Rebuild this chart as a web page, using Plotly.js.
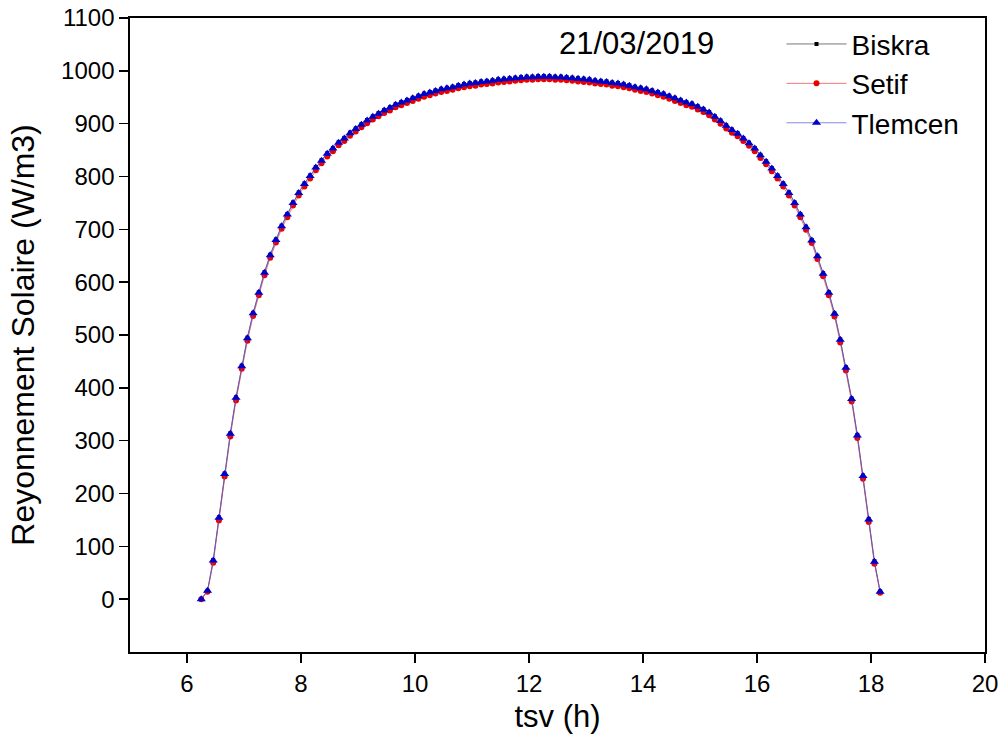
<!DOCTYPE html>
<html>
<head>
<meta charset="utf-8">
<script src="https://cdn.plot.ly/plotly-3.0.1.min.js"></script>
<style>html,body{margin:0;padding:0;background:#fff;}#chart{width:1001px;height:742px;}</style>
</head>
<body>
<div id="chart"></div>
<script>
// tsv (h): sunrise point then 0.1 h steps
var tsv = [6.25,
  6.36,6.46,6.56,6.66,6.76,6.86,6.96,7.06,7.16,7.26,
  7.36,7.46,7.56,7.66,7.76,7.86,7.96,8.06,8.16,8.26,
  8.36,8.46,8.56,8.66,8.76,8.86,8.96,9.06,9.16,9.26,
  9.36,9.46,9.56,9.66,9.76,9.86,9.96,10.06,10.16,10.26,
  10.36,10.46,10.56,10.66,10.76,10.86,10.96,11.06,11.16,11.26,
  11.36,11.46,11.56,11.66,11.76,11.86,11.96,12.06,12.16,12.26,
  12.36,12.46,12.56,12.66,12.76,12.86,12.96,13.06,13.16,13.26,
  13.36,13.46,13.56,13.66,13.76,13.86,13.96,14.06,14.16,14.26,
  14.36,14.46,14.56,14.66,14.76,14.86,14.96,15.06,15.16,15.26,
  15.36,15.46,15.56,15.66,15.76,15.86,15.96,16.06,16.16,16.26,
  16.36,16.46,16.56,16.66,16.76,16.86,16.96,17.06,17.16,17.26,
  17.36,17.46,17.56,17.66,17.76,17.86,17.96,18.06,18.16];

var biskra = [0,
  16,74,155,238,314,382,442,495,542,581,619,652,681,707,729,751,770,787,802,818,831,844,854,865,873,883,891,899,907,
  914,920,926,931,937,941,945,949,953,957,960,963,966,968,970,973,975,977,978,980,981,982,984,985,986,987,988,989,989,990,
  990,
  990,989,989,988,987,986,985,984,982,981,980,978,977,975,973,970,968,966,963,960,957,953,949,945,941,938,933,928,922,914,
  906,897,889,882,873,864,854,841,829,816,802,787,770,751,729,705,680,650,617,581,541,492,439,380,311,234,152,72,15];

var setif = [0,
  14,69,149,232,308,376,436,489,536,575,613,646,675,701,723,745,764,781,796,812,825,838,848,859,867,877,885,893,901,
  908,914,920,925,931,935,939,943,947,951,954,957,960,962,964,967,969,971,972,974,975,976,978,979,980,981,982,983,983,984,
  984,
  984,983,983,982,981,980,979,978,976,975,974,972,971,969,967,964,962,960,957,954,951,947,943,939,935,932,927,922,916,908,
  900,891,883,876,867,858,848,835,823,810,796,781,764,745,723,699,674,644,611,575,535,486,433,374,305,228,146,67,12];

var tlemcen = [0,
  16,73,154,237,313,381,441,494,541,580,618,651,680,706,728,750,769,786,801,817,830,843,853,864,872,882,890,898,906,
  913,919,925,930,936,940,944,948,952,956,959,962,965,967,969,972,974,976,977,979,980,981,983,984,985,986,987,988,988,989,
  989,
  989,988,988,987,986,985,984,983,981,980,979,977,976,974,972,969,967,965,962,959,956,952,948,944,940,937,932,927,921,913,
  905,896,888,881,872,863,853,840,828,815,801,786,769,750,728,704,679,649,616,580,540,491,438,379,310,233,151,71,14];

var xTicks = [6,8,10,12,14,16,18,20];
var yTicks = [0,100,200,300,400,500,600,700,800,900,1000,1100];
var seriesNames = ['Biskra','Setif','Tlemcen'];
var dateLabel = '21/03/2019';

var FONT = 'Arial, "Liberation Sans", sans-serif';

var traces = [
  {x: tsv, y: biskra, name: seriesNames[0], type: 'scatter', mode: 'lines+markers',
   line: {color: 'rgb(60,60,60)', width: 0.7},
   marker: {symbol: 'square', size: 4, color: 'rgb(0,0,0)'}},
  {x: tsv, y: setif, name: seriesNames[1], type: 'scatter', mode: 'lines+markers',
   line: {color: 'rgb(240,60,60)', width: 0.7},
   marker: {symbol: 'circle', size: 6, color: 'rgb(235,0,0)'}},
  {x: tsv, y: tlemcen, name: seriesNames[2], type: 'scatter', mode: 'lines+markers',
   line: {color: 'rgb(80,80,220)', width: 0.7},
   marker: {symbol: 'triangle-up', size: 8, color: 'rgb(0,0,205)'}}
];

var layout = {
  width: 1001, height: 742,
  margin: {l: 130, r: 16, t: 18, b: 90},
  paper_bgcolor: '#ffffff', plot_bgcolor: '#ffffff',
  font: {family: FONT, color: '#000'},
  showlegend: true,
  legend: {x: 0.762, y: 0.998, xanchor: 'left', yanchor: 'top',
           bgcolor: 'rgba(0,0,0,0)', font: {family: FONT, size: 28, color: '#000'},
           itemwidth: 60, tracegroupgap: 0},
  xaxis: {range: [5, 20], tickmode: 'array', tickvals: xTicks,
          ticks: 'outside', ticklen: 9, tickwidth: 1.5, tickcolor: '#000',
          showline: true, linewidth: 1.7, linecolor: '#000', mirror: true,
          showgrid: false, zeroline: false,
          tickfont: {family: FONT, size: 24, color: '#000'},
          title: {text: 'tsv (h)', font: {family: FONT, size: 31, color: '#000'}, standoff: 10}},
  yaxis: {range: [-100, 1100], tickmode: 'array', tickvals: yTicks,
          ticks: 'outside', ticklen: 9, tickwidth: 1.5, tickcolor: '#000',
          showline: true, linewidth: 1.7, linecolor: '#000', mirror: true,
          showgrid: false, zeroline: false,
          tickfont: {family: FONT, size: 24, color: '#000'},
          title: {text: 'Reyonnement Solaire (W/m3)', font: {family: FONT, size: 32, color: '#000'}, standoff: 17}},
  annotations: [{text: dateLabel, xref: 'paper', yref: 'paper', x: 0.592, y: 0.96,
                 xanchor: 'center', yanchor: 'middle', showarrow: false,
                 font: {family: FONT, size: 31, color: '#000'}}]
};

Plotly.newPlot('chart', traces, layout, {displayModeBar: false, staticPlot: true});
</script>
</body>
</html>
